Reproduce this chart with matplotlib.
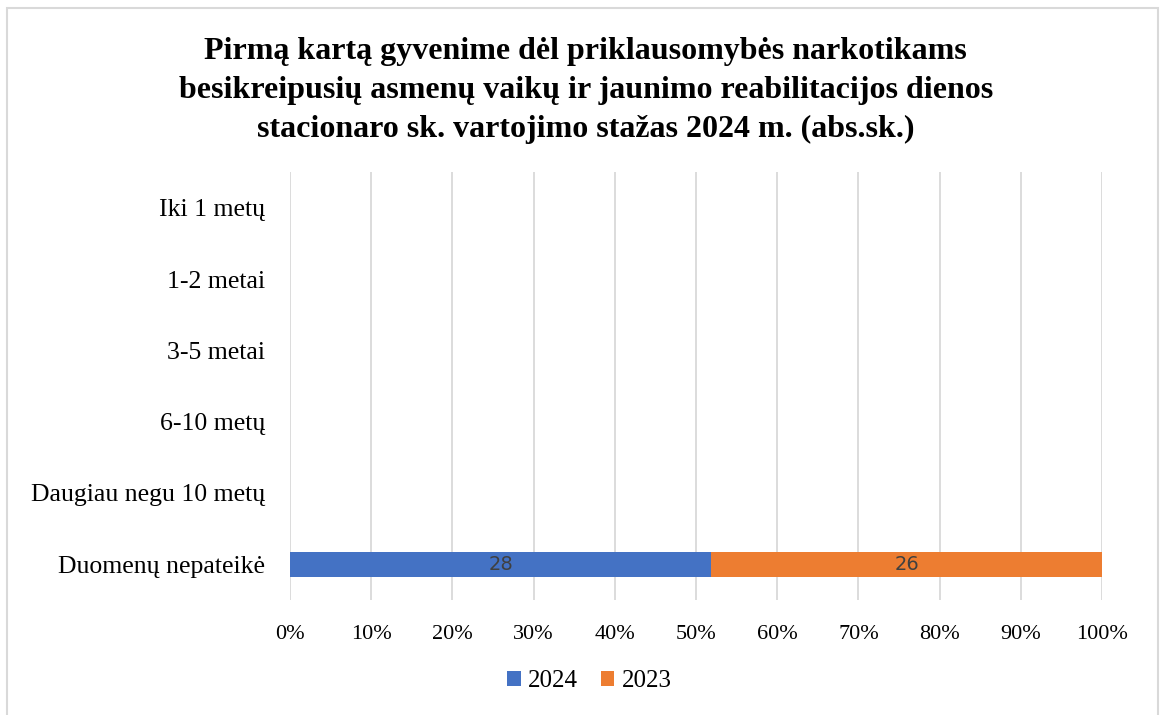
import numpy as np
import matplotlib.pyplot as plt
from matplotlib.patches import Rectangle

# data
categories = ["Iki 1 metų", "1-2 metai", "3-5 metai", "6-10 metų",
              "Daugiau negu 10 metų", "Duomenų nepateikė"]
series_names = ["2024", "2023"]
vals_2024 = [0, 0, 0, 0, 0, 28]
vals_2023 = [0, 0, 0, 0, 0, 26]
colors = ["#4472C4", "#ED7D31"]

title = ("Pirmą kartą gyvenime dėl priklausomybės narkotikams\n"
         "besikreipusių asmenų vaikų ir jaunimo reabilitacijos dienos\n"
         "stacionaro sk. vartojimo stažas 2024 m. (abs.sk.)")

plt.rcParams['font.family'] = ['Liberation Serif', 'DejaVu Serif']

a = np.array(vals_2024, dtype=float)
b = np.array(vals_2023, dtype=float)
tot = a + b
tot[tot == 0] = 1
pa = a / tot * 100
pb = b / tot * 100

fig = plt.figure(figsize=(11.6, 7.15), dpi=100)
ax = fig.add_axes([0.25, 0.161, 0.70, 0.598])

y = np.arange(len(categories))
h = 0.35
bars1 = ax.barh(y, pa, height=h, color=colors[0], label=series_names[0], zorder=3)
bars2 = ax.barh(y, pb, left=pa, height=h, color=colors[1], label=series_names[1], zorder=3)

for bars, vals in ((bars1, vals_2024), (bars2, vals_2023)):
    for r, v in zip(bars, vals):
        if v > 0:
            ax.text(r.get_x() + r.get_width() / 2, r.get_y() + r.get_height() / 2,
                    str(v), ha='center', va='center', fontsize=14,
                    color='#404040', family='DejaVu Sans', zorder=4)

ax.set_xlim(0, 100)
ax.set_ylim(len(categories) - 0.5, -0.5)
ax.set_xticks(np.arange(0, 101, 10))
ax.set_xticklabels([f"{t}%" for t in range(0, 101, 10)], fontsize=16)
ax.set_yticks(y)
ax.set_yticklabels(categories, fontsize=18.5)
ax.tick_params(length=0)
ax.tick_params(axis='y', pad=18)
ax.tick_params(axis='x', pad=18)
ax.xaxis.grid(True, color='#D9D9D9', linewidth=1.3, zorder=0)
for s in ax.spines.values():
    s.set_visible(False)

fig.text(0.505, 0.874, title, ha='center', va='center', fontsize=23,
         fontweight='bold', linespacing=1.45)

fig.legend(loc='center', bbox_to_anchor=(0.508, 0.047), ncol=2, frameon=False,
           fontsize=18, handlelength=0.55, handleheight=0.55, handletextpad=0.3,
           columnspacing=0.9)

fig.patches.append(Rectangle((7 / 1160, -0.05), 1151 / 1160, 1 - 8 / 715 + 0.05,
                             transform=fig.transFigure, fill=False,
                             edgecolor='#D9D9D9', linewidth=1.5))

fig.savefig("out.png", dpi=100)
